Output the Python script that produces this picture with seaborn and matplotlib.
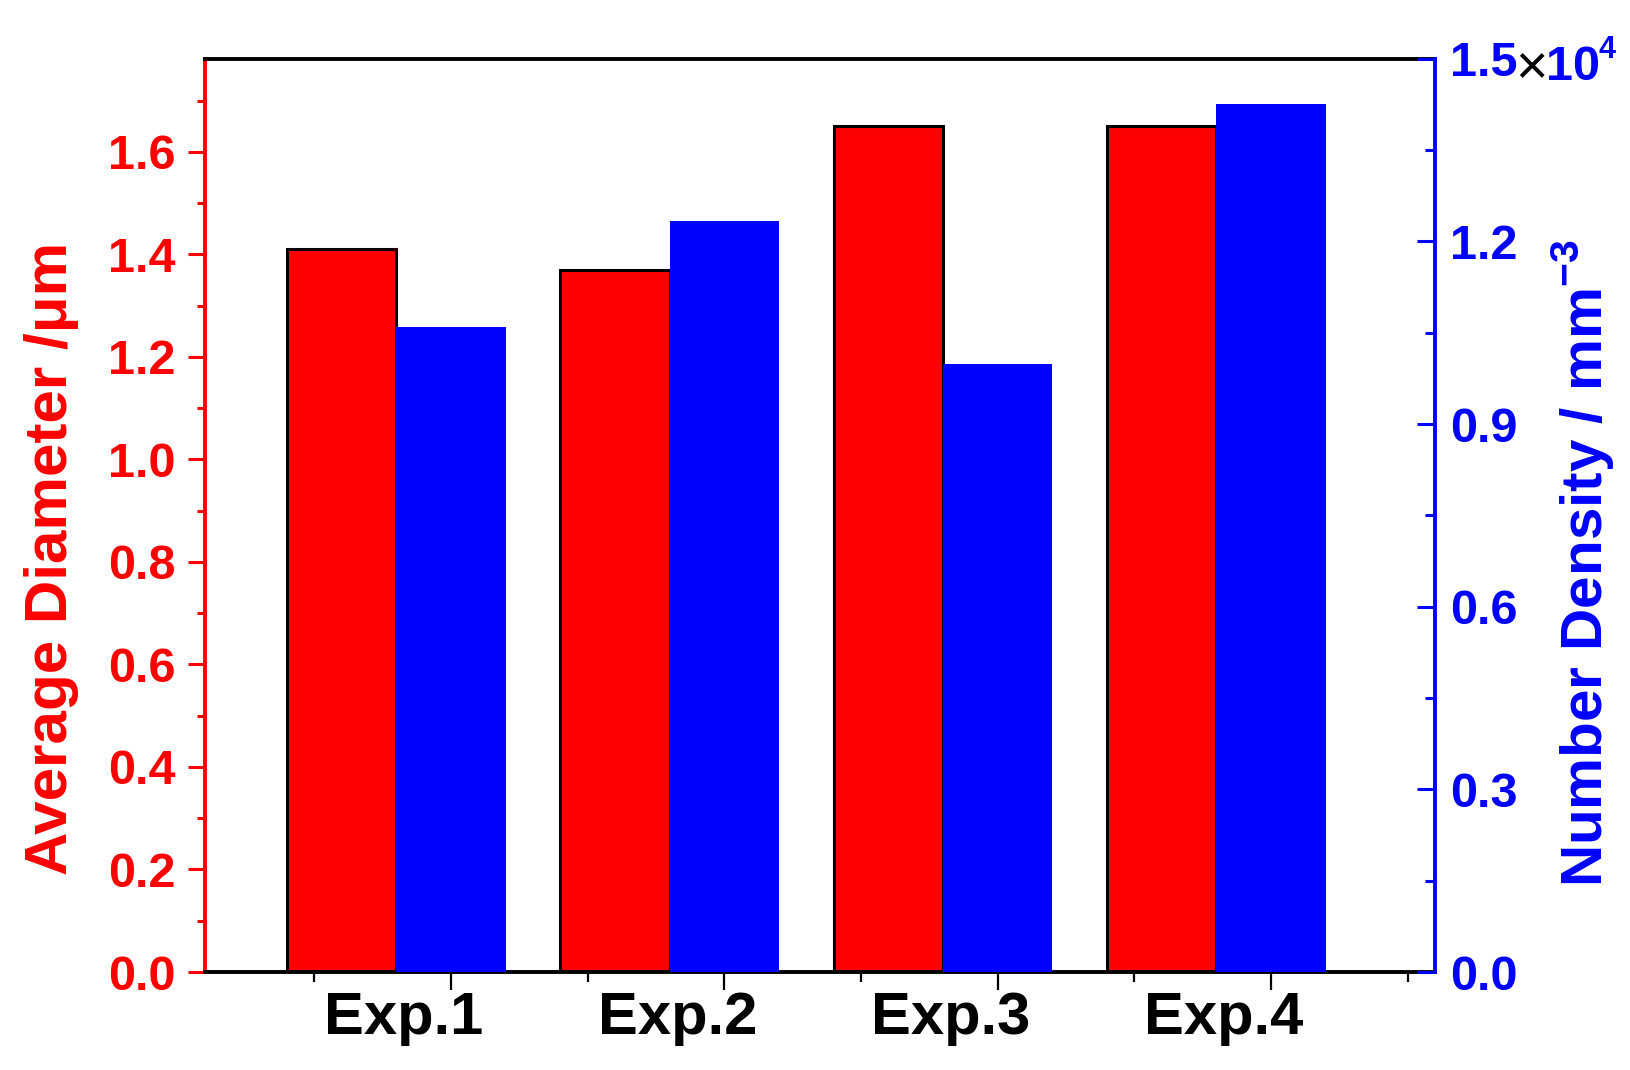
import numpy as np
import pandas as pd
import matplotlib
matplotlib.use("Agg")
import matplotlib.pyplot as plt
import matplotlib.transforms as mtransforms
import seaborn as sns
from matplotlib.ticker import MultipleLocator, FixedLocator, FuncFormatter

# ---------------- data ----------------
categories = ["Exp.1", "Exp.2", "Exp.3", "Exp.4"]
avg_diameter = [1.41, 1.37, 1.65, 1.65]          # µm
number_density = [10600, 12340, 9990, 14260]     # mm^-3

# ---------------- style ----------------
sns.set_theme(style="white")
plt.rcParams["font.family"] = ["Liberation Sans", "DejaVu Sans"]
plt.rcParams["font.weight"] = "bold"
plt.rcParams["mathtext.fontset"] = "custom"
plt.rcParams["mathtext.rm"] = "Liberation Sans:bold"
plt.rcParams["mathtext.bf"] = "Liberation Sans:bold"
plt.rcParams["axes.unicode_minus"] = True

RED = "#FF0000"
BLUE = "#0000FF"
W, H = 1631, 1070
fig = plt.figure(figsize=(W / 100, H / 100), dpi=100)
ax1 = fig.add_axes([205 / W, 1 - 972 / H, (1435 - 205) / W, (972 - 58.7) / H])
ax2 = ax1.twinx()

pos = np.arange(1, len(categories) + 1)
df = pd.DataFrame({"Experiment": categories, "pos": pos,
                   "Diameter": avg_diameter, "Density": number_density})

sns.barplot(x=df["pos"] - 0.4, y=df["Diameter"], native_scale=True, orient="x",
            width=0.4, color=RED, saturation=1, edgecolor="black",
            linewidth=2.2, ax=ax1)
sns.barplot(x=df["pos"], y=df["Density"], native_scale=True, orient="x",
            width=0.4, color=BLUE, saturation=1, linewidth=0, ax=ax2)

ax1.set_xlim(0.1, 4.6)
ax1.set_ylim(0, 1.782)
ax2.set_ylim(0, 15000)
ax1.set_xlabel("")
ax1.set_ylabel("")
ax2.set_ylabel("")
ax2.set_xlabel("")

# spines
for sp in ax1.spines.values():
    sp.set_linewidth(2.8)
ax1.spines["left"].set_color(RED)
ax1.spines["bottom"].set_color("black")
ax1.spines["top"].set_color("black")
ax1.spines["right"].set_visible(False)
for name, sp in ax2.spines.items():
    if name == "right":
        sp.set_color(BLUE)
        sp.set_linewidth(2.8)
    else:
        sp.set_visible(False)

# x ticks
ax1.xaxis.set_major_locator(FixedLocator(pos))
ax1.xaxis.set_minor_locator(FixedLocator(list(pos - 0.5) + [pos[-1] + 0.5]))
ax1.set_xticklabels(categories)
ax1.tick_params(axis="x", which="major", direction="out", length=13, width=1.6,
                color="black", labelsize=43, labelcolor="black", pad=1,
                bottom=True, top=False)
ax1.tick_params(axis="x", which="minor", direction="out", length=7, width=1.6,
                color="black", bottom=True, top=False)
shift = mtransforms.ScaledTranslation(-47 / 100, 0, fig.dpi_scale_trans)
for lab in ax1.get_xticklabels():
    lab.set_transform(lab.get_transform() + shift)

# left y ticks
ax1.yaxis.set_major_locator(MultipleLocator(0.2))
ax1.yaxis.set_minor_locator(MultipleLocator(0.1))
ax1.yaxis.set_major_formatter(FuncFormatter(lambda v, p: f"{v:.1f}"))
ax1.tick_params(axis="y", which="major", direction="out", length=12, width=2.2,
                color=RED, labelsize=35, labelcolor=RED, pad=9, left=True, right=False)
ax1.tick_params(axis="y", which="minor", direction="out", length=6, width=2.2,
                color=RED, left=True, right=False)

# right y ticks
ax2.yaxis.set_major_locator(MultipleLocator(3000))
ax2.yaxis.set_minor_locator(MultipleLocator(1500))
ax2.yaxis.set_major_formatter(FuncFormatter(lambda v, p: f"{v / 1e4:.1f}"))
ax2.tick_params(axis="y", which="major", direction="in", length=13, width=2.2,
                color=BLUE, labelsize=35, labelcolor=BLUE, pad=11, right=True, left=False)
ax2.tick_params(axis="y", which="minor", direction="in", length=7, width=2.2,
                color=BLUE, right=True, left=False)
ax2.tick_params(axis="x", which="both", bottom=False, top=False, labelbottom=False)

for lab in ax1.get_xticklabels() + ax1.get_yticklabels() + ax2.get_yticklabels():
    lab.set_fontweight("bold")

# "×10^4" multiplier next to the top right tick label
fig.text(1531 / W, 1 - 69 / H, "×", color="black", fontsize=40, fontweight="normal",
         ha="center", va="center", family=["Liberation Sans", "DejaVu Sans"])
fig.text(1546 / W, 1 - 80 / H, "10", color=BLUE, fontsize=35, fontweight="bold",
         ha="left", va="baseline")
fig.text(1599 / W, 1 - 58 / H, "4", color=BLUE, fontsize=22, fontweight="bold",
         ha="left", va="baseline")

# axis titles
fig.text(67 / W, 1 - 558 / H, "Average Diameter /μm", color=RED, fontsize=43.3,
         fontweight="bold", rotation=90, rotation_mode="anchor",
         ha="center", va="baseline")
fig.text(1603 / W, 1 - 563 / H, r"Number Density / mm$^{-3}$", color=BLUE, fontsize=42,
         fontweight="bold", rotation=90, rotation_mode="anchor",
         ha="center", va="baseline")

fig.savefig("out.png", dpi=100, facecolor="white")
